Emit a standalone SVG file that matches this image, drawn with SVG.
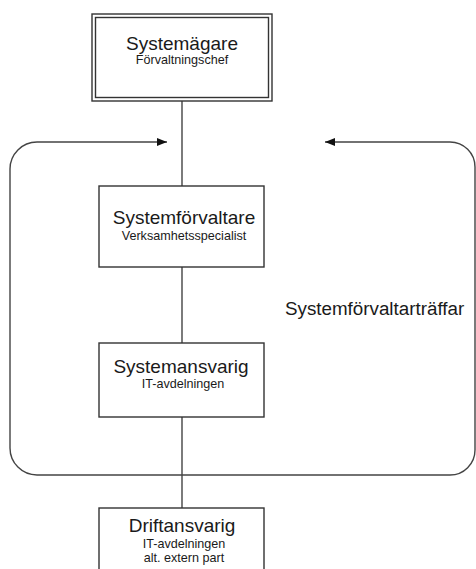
<svg xmlns="http://www.w3.org/2000/svg" width="476" height="569" viewBox="0 0 476 569">
<style>
.box{fill:#fff;stroke:#333;stroke-width:1.4}
.ln{fill:none;stroke:#444;stroke-width:1.4}
.t{font-family:"Liberation Sans",Arial,sans-serif;fill:#1a1a1a;text-anchor:middle}
.h{font-size:19px}
.s{font-size:12.6px}
</style>
<defs>
<marker id="ah" viewBox="0 0 10 8" refX="10" refY="4" markerWidth="10" markerHeight="8" markerUnits="userSpaceOnUse" orient="auto-start-reverse">
<path d="M0,0 L10,4 L0,8 Z" fill="#111"/>
</marker>
</defs>
<rect width="476" height="569" fill="#fff"/>
<g id="connectors">
<path class="ln" d="M167 142 L37 142 A27 27 0 0 0 10 169 L10 448 A27 27 0 0 0 37 475 L450 475 A25 25 0 0 0 475 450 L475 167 A25 25 0 0 0 450 142 L325 142" marker-start="url(#ah)" marker-end="url(#ah)"/>
<line class="ln" x1="182" y1="101" x2="182" y2="186"/>
<line class="ln" x1="182" y1="267" x2="182" y2="343"/>
<line class="ln" x1="182" y1="417" x2="182" y2="508"/>
</g>
<g id="systemagare">
<rect class="box" x="92" y="14" width="180" height="87"/>
<rect class="box" x="95.5" y="17.5" width="173" height="80"/>
<text class="t h" x="182" y="49.5">Systemägare</text>
<text class="t s" x="182" y="64">Förvaltningschef</text>
</g>
<g id="systemforvaltare">
<rect class="box" x="99" y="186" width="165" height="81"/>
<text class="t h" x="184" y="224">Systemförvaltare</text>
<text class="t s" x="184" y="240">Verksamhetsspecialist</text>
</g>
<g id="systemansvarig">
<rect class="box" x="99" y="343" width="165" height="74"/>
<text class="t h" x="181" y="372.5">Systemansvarig</text>
<text class="t s" x="183" y="388">IT-avdelningen</text>
</g>
<g id="driftansvarig">
<rect class="box" x="99" y="508" width="165" height="80"/>
<text class="t h" x="182" y="532">Driftansvarig</text>
<text class="t s" x="184" y="548">IT-avdelningen</text>
<text class="t s" x="184" y="562">alt. extern part</text>
</g>
<g id="label">
<text class="t" style="font-size:18.8px;text-anchor:start" x="285" y="315">Systemförvaltarträffar</text>
</g>
</svg>
